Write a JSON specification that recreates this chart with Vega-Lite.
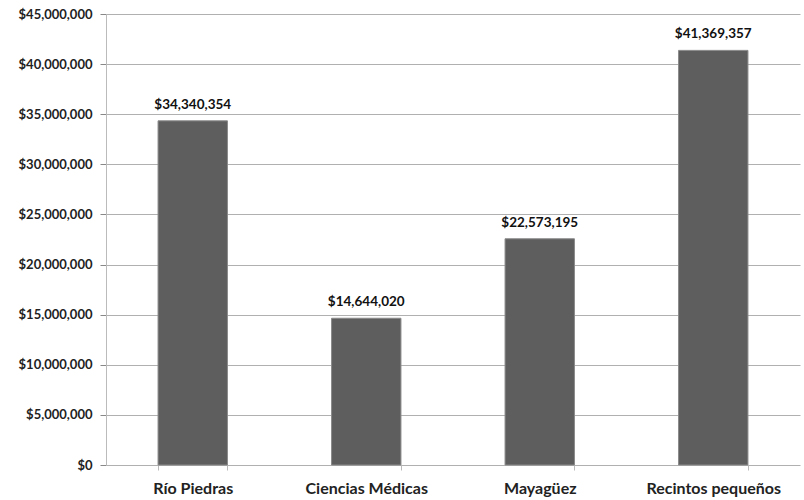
{
  "$schema": "https://vega.github.io/schema/vega-lite/v6.json",
  "width": 694,
  "height": 451,
  "autosize": {"type": "none"},
  "padding": {"left": 106, "top": 14, "right": 4, "bottom": 35},
  "background": "white",
  "config": {"view": {"stroke": null}, "font": "Lato"},
  "data": {"values": [
    {"recinto": "Río Piedras", "monto": 34340354},
    {"recinto": "Ciencias Médicas", "monto": 14644020},
    {"recinto": "Mayagüez", "monto": 22573195},
    {"recinto": "Recintos pequeños", "monto": 41369357}
  ]},
  "encoding": {
    "x": {"field": "recinto", "type": "nominal", "sort": null,
      "scale": {"paddingInner": 0.6, "paddingOuter": 0.3},
      "axis": {"title": null, "labelAngle": 0, "labelFont": "Lato", "labelFontWeight": "bold", "labelFontSize": 16, "labelColor": "#222", "labelPadding": 10,
        "domain": false, "tickBand": "extent", "tickColor": "#bbb", "tickSize": 5, "ticks": true, "grid": false}},
    "y": {"field": "monto", "type": "quantitative",
      "scale": {"domain": [0, 45000000], "nice": false},
      "axis": {"title": null, "values": [0,5000000,10000000,15000000,20000000,25000000,30000000,35000000,40000000,45000000],
        "format": "$,.0f", "labelFont": "Lato", "labelFontWeight": "bold", "labelFontSize": 13, "labelColor": "#222", "labelPadding": 8,
        "domainColor": "#bbb", "tickColor": "#888", "tickSize": 6, "gridColor": "#b0b0b0", "gridWidth": 1}}
  },
  "layer": [
    {"mark": {"type": "bar", "color": "#5e5e5e", "stroke": "#8a8a8a", "strokeWidth": 1}},
    {"mark": {"type": "text", "dy": -16, "font": "Lato", "fontWeight": "bold", "fontSize": 13.5, "color": "#111"},
      "encoding": {"text": {"field": "monto", "type": "quantitative", "format": "$,.0f"}}}
  ]
}
